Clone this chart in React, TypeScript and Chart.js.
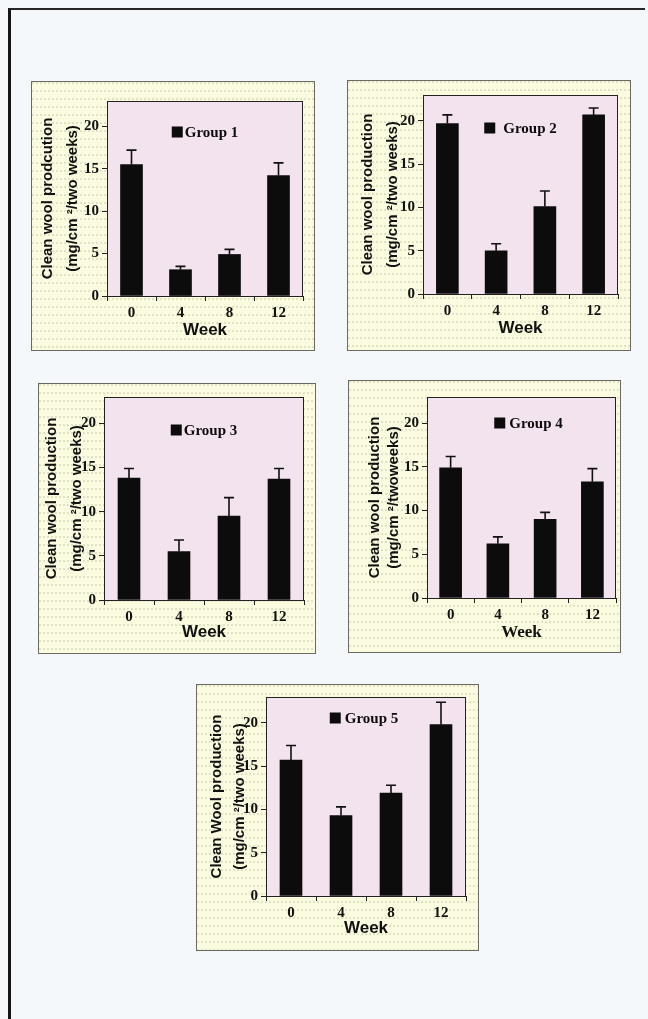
import React, { useEffect, useRef } from "react";
import { Chart, registerables } from "chart.js";

Chart.register(...registerables);

// ---------- data ----------
const weeks = ["0", "4", "8", "12"];

const group1Mean = [15.5, 3.1, 4.9, 14.2];
const group1Sem = [1.7, 0.4, 0.6, 1.5];

const group2Mean = [19.7, 5.0, 10.1, 20.7];
const group2Sem = [1.0, 0.8, 1.8, 0.8];

const group3Mean = [13.8, 5.5, 9.5, 13.7];
const group3Sem = [1.1, 1.3, 2.1, 1.2];

const group4Mean = [14.9, 6.2, 9.0, 13.3];
const group4Sem = [1.3, 0.8, 0.8, 1.5];

const group5Mean = [15.7, 9.3, 11.9, 19.8];
const group5Sem = [1.7, 1.0, 0.9, 2.6];

const yMin = 0;
const yMax = 23;
const yStep = 5;

// ---------- styles ----------
const PINK = "#f3e3ef";
const YELLOW = "#fbfbdf";
const BAR = "#0c0c0c";
const SERIF = "'Liberation Serif', 'Times New Roman', serif";
const SANS = "'Liberation Sans', Arial, sans-serif";

type PanelCfg = {
  legend: string;
  titleLines: string[];
  means: number[];
  sems: number[];
  box: { l: number; t: number; r: number; b: number };
  plot: { l: number; t: number; r: number; zero: number };
  titleOffset: number;
  titleLH: number;
  weekDist: number;
  weekSerif: boolean;
  legendDy: number;
  legendDx: number;
  legendGap: number;
};

const panels: PanelCfg[] = [
  {
    legend: "Group 1",
    titleLines: ["Clean wool prodcution", "(mg/cm \u00B2/two weeks)"],
    means: group1Mean,
    sems: group1Sem,
    box: { l: 31, t: 81, r: 315, b: 351 },
    plot: { l: 107, t: 101, r: 303, zero: 296 },
    titleOffset: 17,
    titleLH: 25,
    weekDist: 21,
    weekSerif: false,
    legendDy: 31,
    legendDx: 0,
    legendGap: 2,
  },
  {
    legend: "Group 2",
    titleLines: ["Clean wool production", "(mg/cm \u00B2/two weeks)"],
    means: group2Mean,
    sems: group2Sem,
    box: { l: 347, t: 80, r: 631, b: 351 },
    plot: { l: 423, t: 95, r: 618, zero: 294 },
    titleOffset: 21,
    titleLH: 25,
    weekDist: 23,
    weekSerif: false,
    legendDy: 33,
    legendDx: 0,
    legendGap: 8,
  },
  {
    legend: "Group 3",
    titleLines: ["Clean wool production", "(mg/cm \u00B2/two weeks)"],
    means: group3Mean,
    sems: group3Sem,
    box: { l: 38, t: 383, r: 316, b: 654 },
    plot: { l: 104, t: 397, r: 304, zero: 600 },
    titleOffset: 14,
    titleLH: 25,
    weekDist: 22,
    weekSerif: false,
    legendDy: 33,
    legendDx: 0,
    legendGap: 2,
  },
  {
    legend: "Group 4",
    titleLines: ["Clean wool production", "(mg/cm \u00B2/twoweeks)"],
    means: group4Mean,
    sems: group4Sem,
    box: { l: 348, t: 380, r: 621, b: 653 },
    plot: { l: 427, t: 397, r: 616, zero: 598 },
    titleOffset: 27,
    titleLH: 19,
    weekDist: 20,
    weekSerif: true,
    legendDy: 26,
    legendDx: 7,
    legendGap: 4,
  },
  {
    legend: "Group 5",
    titleLines: ["Clean Wool production", "(mg/cm \u00B2/two weeks)"],
    means: group5Mean,
    sems: group5Sem,
    box: { l: 196, t: 684, r: 479, b: 951 },
    plot: { l: 266, t: 697, r: 466, zero: 896 },
    titleOffset: 21,
    titleLH: 23,
    weekDist: 23,
    weekSerif: false,
    legendDy: 21,
    legendDx: -2,
    legendGap: 4,
  },
];

// ---------- plugins ----------
const plotFrame = {
  id: "plotFrame",
  beforeDraw(chart: any) {
    const { ctx, chartArea: a } = chart;
    ctx.save();
    ctx.fillStyle = PINK;
    ctx.fillRect(a.left, a.top, a.right - a.left, a.bottom - a.top);
    ctx.restore();
  },
  afterDraw(chart: any) {
    const { ctx, chartArea: a } = chart;
    ctx.save();
    ctx.strokeStyle = "#222";
    ctx.lineWidth = 1;
    ctx.strokeRect(a.left + 0.5, a.top + 0.5, a.right - a.left - 1, a.bottom - a.top);
    ctx.restore();
  },
};

const errorBars = {
  id: "errorBars",
  afterDatasetsDraw(chart: any, _args: any, opts: any) {
    const { ctx } = chart;
    const ys = chart.scales.y;
    const errs: number[] = opts.errors || [];
    chart.data.datasets.forEach((ds: any, di: number) => {
      const meta = chart.getDatasetMeta(di);
      meta.data.forEach((bar: any, i: number) => {
        const v = ds.data[i] as number;
        const e = errs[i] ?? 0;
        const x = bar.x;
        const y0 = ys.getPixelForValue(v);
        const y1 = ys.getPixelForValue(v + e);
        ctx.save();
        ctx.strokeStyle = "#111";
        ctx.lineWidth = 1.6;
        ctx.beginPath();
        ctx.moveTo(x, y0);
        ctx.lineTo(x, y1);
        ctx.moveTo(x - 5, y1);
        ctx.lineTo(x + 5, y1);
        ctx.stroke();
        ctx.restore();
      });
    });
  },
};

const groupLegend = {
  id: "groupLegend",
  afterDraw(chart: any, _args: any, opts: any) {
    const { ctx, chartArea: a } = chart;
    const text: string = opts.text;
    ctx.save();
    ctx.font = `bold 15px ${SERIF}`;
    const tw = ctx.measureText(text).width;
    const sq = 11;
    const total = sq + opts.gap + tw;
    const cx = (a.left + a.right) / 2 + opts.dx;
    const cy = a.top + opts.dy;
    const x0 = cx - total / 2;
    ctx.fillStyle = "#0c0c0c";
    ctx.fillRect(x0, cy - sq / 2, sq, sq);
    ctx.textBaseline = "middle";
    ctx.textAlign = "left";
    ctx.fillText(text, x0 + sq + opts.gap, cy + 1);
    ctx.restore();
  },
};

// ---------- panel ----------
function Panel({ cfg }: { cfg: PanelCfg }) {
  const ref = useRef<HTMLCanvasElement>(null);
  const W = cfg.box.r - cfg.box.l;
  const H = cfg.box.b - cfg.box.t;

  useEffect(() => {
    const yAxisW = cfg.plot.l - cfg.box.l;
    const xAxisH = cfg.box.b - cfg.plot.zero;
    const padTop = cfg.plot.t - cfg.box.t;
    const padRight = cfg.box.r - cfg.plot.r;
    const titleSize = 15;
    const weekSize = 17;
    const weekLH = 1.2;

    const chart = new Chart(ref.current as HTMLCanvasElement, {
      type: "bar",
      data: {
        labels: weeks,
        datasets: [
          {
            data: cfg.means,
            backgroundColor: BAR,
            borderWidth: 0,
            barThickness: 22,
          },
        ],
      },
      options: {
        animation: false,
        responsive: false,
        maintainAspectRatio: false,
        devicePixelRatio: 1,
        events: [],
        layout: { padding: { top: padTop, right: padRight, left: 0, bottom: 0 } },
        plugins: {
          legend: { display: false },
          tooltip: { enabled: false },
          errorBars: { errors: cfg.sems },
          groupLegend: {
            text: cfg.legend,
            dx: cfg.legendDx,
            dy: cfg.legendDy,
            gap: cfg.legendGap,
          },
        } as any,
        scales: {
          x: {
            offset: true,
            grid: {
              display: true,
              offset: true,
              drawOnChartArea: false,
              drawTicks: true,
              tickLength: 5,
              color: "#222",
              lineWidth: 1,
            },
            border: { display: true, color: "#222", width: 1 },
            ticks: {
              color: "#111",
              font: { family: SERIF, weight: "bold", size: 15 },
              padding: 3,
              maxRotation: 0,
              autoSkip: false,
            },
            title: {
              display: true,
              text: "Week",
              color: "#111",
              font: {
                family: cfg.weekSerif ? SERIF : SANS,
                weight: "bold",
                size: weekSize,
                lineHeight: weekLH,
              },
              padding: { top: 0, bottom: cfg.weekDist - (weekSize * weekLH) / 2 },
            },
            afterFit: (s: any) => {
              s.height = xAxisH;
            },
          },
          y: {
            min: yMin,
            max: yMax,
            grid: {
              display: true,
              drawOnChartArea: false,
              drawTicks: true,
              tickLength: 5,
              color: "#222",
              lineWidth: 1,
            },
            border: { display: true, color: "#222", width: 1 },
            ticks: {
              stepSize: yStep,
              includeBounds: false,
              color: "#111",
              font: { family: SERIF, weight: "bold", size: 15 },
              padding: 3,
            },
            title: {
              display: true,
              text: cfg.titleLines,
              color: "#111",
              font: {
                family: SANS,
                weight: "bold",
                size: titleSize,
                lineHeight: cfg.titleLH / titleSize,
              },
              padding: { top: cfg.titleOffset - cfg.titleLH / 2, bottom: 0 },
            },
            afterFit: (s: any) => {
              s.width = yAxisW;
            },
          },
        },
      } as any,
      plugins: [plotFrame, errorBars, groupLegend],
    });
    return () => chart.destroy();
  }, [cfg]);

  return (
    <div
      style={{
        position: "absolute",
        left: cfg.box.l,
        top: cfg.box.t,
        width: W,
        height: H,
        boxSizing: "border-box",
        border: "1px solid #6a6a62",
        backgroundColor: YELLOW,
        backgroundImage:
          "radial-gradient(circle at 1px 1px, rgba(150,150,125,0.35) 0.6px, transparent 1px)",
        backgroundSize: "4px 8px",
      }}
    >
      <canvas
        ref={ref}
        width={W}
        height={H}
        style={{ position: "absolute", left: -1, top: -1, width: W, height: H }}
      />
    </div>
  );
}

export default function App() {
  return (
    <div
      style={{
        position: "absolute",
        left: 0,
        top: 0,
        width: 648,
        height: 1019,
        overflow: "hidden",
        background: "#f4f8fb",
      }}
    >
      <div
        style={{
          position: "absolute",
          left: 8,
          top: 8,
          width: 634,
          height: 1030,
          borderLeft: "3px solid #151515",
          borderTop: "2px solid #262626",
        }}
      />
      {panels.map((p) => (
        <Panel key={p.legend} cfg={p} />
      ))}
    </div>
  );
}
